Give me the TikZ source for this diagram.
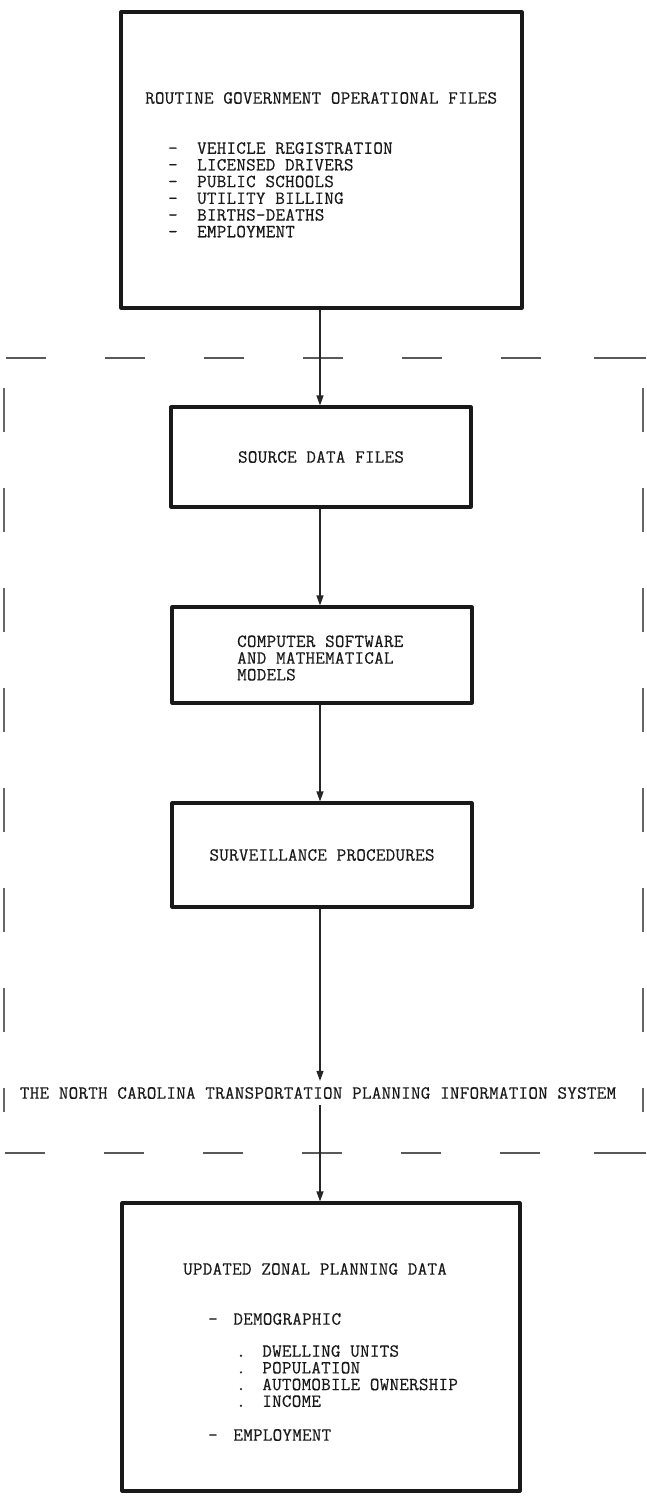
\documentclass[tikz,border=0pt]{standalone}
\usepackage{fontspec}
\setmonofont{Latin Modern Mono}[LetterSpace=1.5,FakeBold=0.4]
\usetikzlibrary{arrows.meta}
\begin{document}
\begin{tikzpicture}[x=1pt,y=-1pt,
  box/.style={draw=black!90,line width=3.2pt,line join=round,minimum width=#1,inner sep=0pt},
  box/.default=300pt,
  txt/.style={font=\fontsize{18.5}{16.7}\selectfont\ttfamily,text=black!90,inner sep=0pt,align=left},
  conn/.style={draw=black!85,line width=1.2pt,-{Triangle[length=10pt,width=7pt]}},
  frame/.style={draw=black!65,line width=1.5pt,dash pattern=on 40pt off 59pt}
]
\useasboundingbox (0,0) rectangle (647,1497);
% top box
\node[box=401pt,minimum height=296pt] (top) at (321.5,160) {};
\node[txt,anchor=west] (toptitle) at (145,98) {ROUTINE GOVERNMENT OPERATIONAL FILES};
\node[txt,anchor=north west] (toplist) at (168,142) {-\hspace{1.05em}VEHICLE REGISTRATION\\-\hspace{1.05em}LICENSED DRIVERS\\-\hspace{1.05em}PUBLIC SCHOOLS\\-\hspace{1.05em}UTILITY BILLING\\-\hspace{1.05em}BIRTHS-DEATHS\\-\hspace{1.05em}EMPLOYMENT};
% dashed system frame
\draw[frame,dash phase=-1pt] (5,358) -- (600,358);
\draw[draw=black!65,line width=1.5pt] (594,358) -- (646,358);
\draw[frame,dash phase=0pt] (5,1153) -- (600,1153);
\draw[draw=black!65,line width=1.5pt] (594,1153) -- (646,1153);
\draw[draw=black!60,line width=1.4pt,dash pattern=on 44pt off 56pt] (4,388) -- (4,1112);
\draw[draw=black!60,line width=1.4pt,dash pattern=on 44pt off 56pt] (643,388) -- (643,1112);
% middle boxes
\node[box,minimum height=100pt] (src) at (321,457) {};
\node[txt] (srctext) at (321,457) {SOURCE DATA FILES};
\node[box,minimum height=96pt] (cs) at (322,655) {};
\node[txt,anchor=west] (cstext) at (237,658) {COMPUTER SOFTWARE\\AND MATHEMATICAL\\MODELS};
\node[box,minimum height=104pt] (surv) at (322,855) {};
\node[txt] (survtext) at (322,855) {SURVEILLANCE PROCEDURES};
% system title
\node[txt,inner ysep=6pt] (sys) at (318,1093) {THE NORTH CAROLINA TRANSPORTATION PLANNING INFORMATION SYSTEM};
% bottom box
\node[box=398pt,minimum height=288pt] (bot) at (321,1347) {};
\node[txt,anchor=west] (bottitle) at (183,1269) {UPDATED ZONAL PLANNING DATA};
\node[txt,anchor=west] (demo) at (208,1319) {-\hspace{0.85em}DEMOGRAPHIC};
\node[txt,anchor=north west] (demolist) at (236,1345) {.\hspace{0.9em}DWELLING UNITS\\.\hspace{0.9em}POPULATION\\.\hspace{0.9em}AUTOMOBILE OWNERSHIP\\.\hspace{0.9em}INCOME};
\node[txt,anchor=west] (emp) at (208,1435) {-\hspace{0.85em}EMPLOYMENT};
% connectors
\draw[conn] (top.south -| 320,0) -- (src.north -| 320,0);
\draw[conn] (src.south -| 320,0) -- (cs.north -| 320,0);
\draw[conn] (cs.south -| 320,0) -- (surv.north -| 320,0);
\draw[conn] (surv.south -| 320,0) -- (sys.north -| 320,0);
\draw[conn] (sys.south -| 320,0) -- (bot.north -| 320,0);
\end{tikzpicture}
\end{document}
